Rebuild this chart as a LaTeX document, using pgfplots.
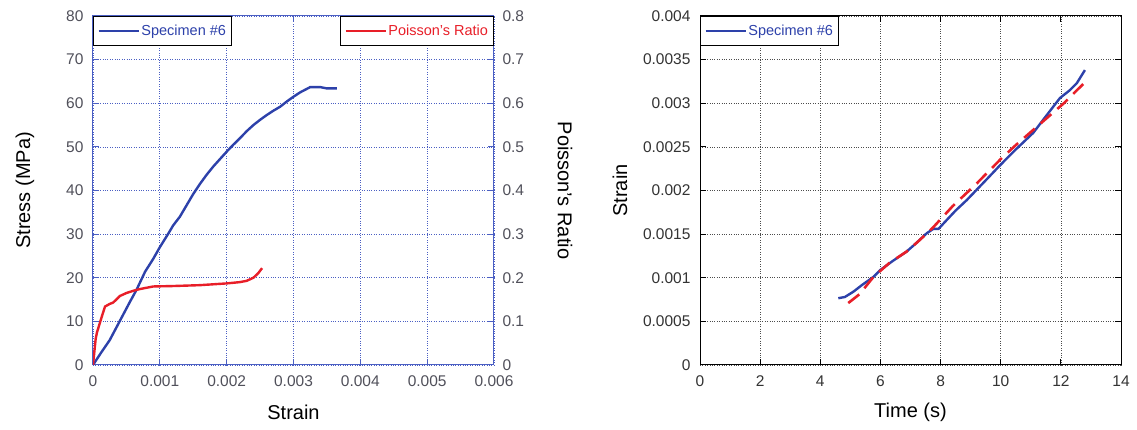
\documentclass[border=0pt]{standalone}
\usepackage{fontspec}
\setmainfont{Liberation Sans}
\usepackage{pgfplots}
\pgfplotsset{compat=1.18}
\definecolor{cblue}{RGB}{45,65,170}
\definecolor{cred}{RGB}{232,30,40}
\definecolor{axblue}{RGB}{75,95,195}
\definecolor{tickgray}{RGB}{80,80,90}
\begin{document}
\begin{tikzpicture}
\path (0,0) rectangle (1137pt,430pt);
\pgfplotsset{
  every axis/.append style={
    scale only axis,
    scaled ticks=false,
    /pgf/number format/assume math mode=true,
    tick label style={font=\fontsize{15.5}{18}\selectfont},
    label style={font=\fontsize{20}{24}\selectfont},
    major tick length=6pt,
    legend style={font=\fontsize{14.5}{16}\selectfont, draw=black, line width=0.9pt, fill=white,
      inner xsep=4pt, inner ysep=7pt, nodes={inner sep=1.5pt}},
    legend cell align=left,
  },
  legend image code/.code={\draw[#1] (0pt,0pt) -- (40pt,0pt);}
}
% ---------- left: stress ----------
\begin{axis}[at={(93pt,65pt)}, anchor=south west, width=401pt, height=349pt,
  xmin=0, xmax=0.006, ymin=0, ymax=80,
  xtick={0,0.001,0.002,0.003,0.004,0.005,0.006},
  xticklabels={0,0.001,0.002,0.003,0.004,0.005,0.006},
  ytick={0,10,20,30,40,50,60,70,80},
  ytick pos=left,
  axis line style={axblue, line width=1pt},
  tick style={axblue, line width=1pt},
  grid=major, major grid style={axblue, dotted, line width=0.7pt},
  tick label style={text=tickgray},
  xticklabel style={yshift=-7pt},
  yticklabel style={xshift=-6pt},
  xlabel={Strain}, ylabel={Stress (MPa)},
  xlabel style={at={(axis description cs:0.5,-0.135)}, anchor=center},
  ylabel style={at={(axis description cs:-0.17,0.5)}, anchor=center},
  legend style={at={(0,1)}, anchor=north west, text=cblue},
]
\addplot[cblue, line width=2.4pt] coordinates {
(0,0) (0.00012,2.8) (0.00025,5.7) (0.00035,8.6) (0.00045,11.5) (0.00055,14.4) (0.00065,17.2) (0.00078,21.4)
(0.0009,24.3) (0.001,27) (0.00113,30.2) (0.0012,32) (0.0013,34) (0.0014,36.6) (0.0015,39.2) (0.0016,41.5)
(0.0017,43.6) (0.0018,45.5) (0.0019,47.2) (0.002,48.9) (0.0021,50.5) (0.0022,52) (0.0023,53.6)
(0.0024,55) (0.0025,56.2) (0.0026,57.3) (0.0027,58.3) (0.0028,59.2) (0.0029,60.4) (0.003,61.5)
(0.0031,62.5) (0.0032,63.3) (0.00325,63.7) (0.0034,63.7) (0.0035,63.4) (0.00365,63.4)};
\addlegendentry{Specimen \#6}
\end{axis}
% ---------- left: Poisson ----------
\begin{axis}[at={(93pt,65pt)}, anchor=south west, width=401pt, height=349pt,
  xmin=0, xmax=0.006, ymin=0, ymax=0.8,
  axis x line=none, axis y line*=right,
  ytick={0,0.1,0.2,0.3,0.4,0.5,0.6,0.7,0.8},
  yticklabels={0,0.1,0.2,0.3,0.4,0.5,0.6,0.7,0.8},
  axis line style={axblue, line width=1pt},
  tick style={axblue, line width=1pt},
  tick label style={text=tickgray},
  yticklabel style={xshift=5pt},
  ylabel={Poisson's Ratio},
  ylabel style={at={(axis description cs:1.177,0.5)}, anchor=center, rotate=180},
  legend style={at={(1,1)}, anchor=north east, text=cred},
]
\addplot[cred, line width=2.4pt] coordinates {
(0,0) (0.00002,0.03) (0.00004,0.06) (0.00006,0.075) (0.0001,0.095) (0.00014,0.115) (0.00018,0.134)
(0.00025,0.14) (0.0003,0.143) (0.00035,0.15) (0.0004,0.158) (0.0005,0.165) (0.0006,0.17) (0.0007,0.174)
(0.0008,0.177) (0.0009,0.18) (0.0012,0.181) (0.0016,0.183) (0.002,0.187) (0.0022,0.19) (0.0023,0.193)
(0.0024,0.2) (0.00247,0.21) (0.00253,0.222)};
\addlegendentry{Poisson's Ratio}
\end{axis}
% ---------- right: strain vs time ----------
\begin{axis}[at={(700pt,65pt)}, anchor=south west, width=421pt, height=349pt,
  xmin=0, xmax=14, ymin=0, ymax=0.004,
  xtick={0,2,4,6,8,10,12,14},
  ytick={0,0.0005,0.001,0.0015,0.002,0.0025,0.003,0.0035,0.004},
  yticklabels={0,0.0005,0.001,0.0015,0.002,0.0025,0.003,0.0035,0.004},
  axis line style={black, line width=1pt},
  tick style={black, line width=1pt},
  grid=major, major grid style={black!70, dotted, line width=0.7pt},
  tick label style={text=black!80},
  xticklabel style={yshift=-7pt},
  yticklabel style={xshift=-6pt},
  xlabel={Time (s)}, ylabel={Strain},
  xlabel style={at={(axis description cs:0.5,-0.135)}, anchor=center},
  ylabel style={at={(axis description cs:-0.19,0.5)}, anchor=center},
  legend style={at={(0,1)}, anchor=north west, text=cblue},
]
\addplot[cblue, line width=2.4pt] coordinates {
(4.6,0.000765) (4.82,0.00078) (5.1,0.00084) (5.4,0.00092) (5.77,0.00101) (6.0,0.00109) (6.4,0.00119)
(6.87,0.0013) (7.2,0.0014) (7.54,0.00151) (7.76,0.00156) (7.93,0.00156) (8.2,0.00166) (8.5,0.00177)
(8.87,0.00189) (9.4,0.00208) (9.98,0.00229) (10.5,0.00247) (11.08,0.00266) (11.5,0.00285)
(11.97,0.00306) (12.3,0.00315) (12.53,0.00323) (12.8,0.00338)};
\addlegendentry{Specimen \#6}
\addplot[cred, line width=2.6pt, dash pattern=on 14pt off 8pt, forget plot] coordinates {
(4.93,0.00071) (5.3,0.00081) (5.77,0.00101) (6.3,0.00117) (6.87,0.0013) (7.3,0.00143) (7.76,0.00158)
(8.4,0.00182) (9.2,0.00208) (10,0.00236) (10.5,0.00252) (11.1,0.0027) (11.6,0.00285) (12.1,0.003)
(12.74,0.00322)};
\end{axis}
\end{tikzpicture}
\end{document}
